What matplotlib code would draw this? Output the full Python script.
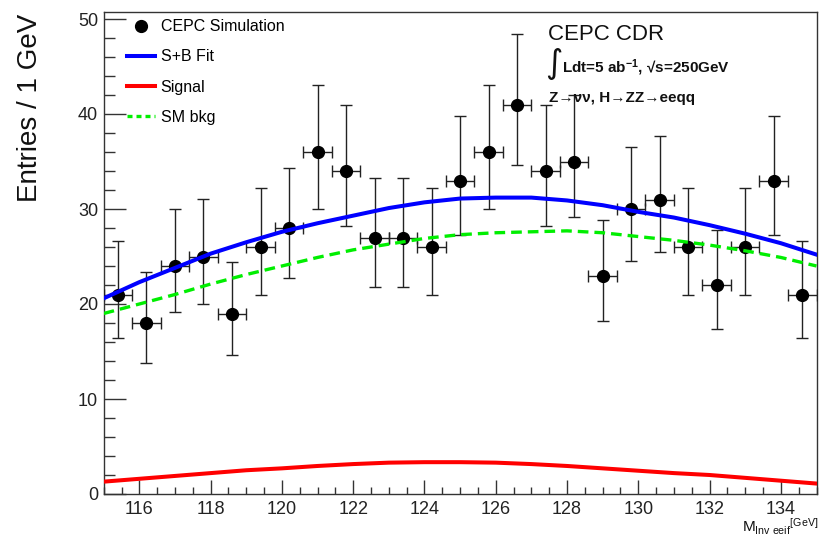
import numpy as np
import matplotlib.pyplot as plt
from matplotlib.lines import Line2D
from matplotlib.ticker import MultipleLocator

plt.rcParams['font.family'] = ['Liberation Sans', 'DejaVu Sans']
plt.rcParams['mathtext.fontset'] = 'custom'
plt.rcParams['mathtext.rm'] = 'Liberation Sans'
plt.rcParams['mathtext.it'] = 'Liberation Sans:italic'
plt.rcParams['mathtext.bf'] = 'Liberation Sans:bold'

# binned data, 0.8 GeV bins
bin_centers = [115.4, 116.2, 117.0, 117.8, 118.6, 119.4, 120.2, 121.0, 121.8,
               122.6, 123.4, 124.2, 125.0, 125.8, 126.6, 127.4, 128.2, 129.0,
               129.8, 130.6, 131.4, 132.2, 133.0, 133.8, 134.6]
counts = [21, 18, 24, 25, 19, 26, 28, 36, 34, 27, 27, 26, 33, 36, 41,
          34, 35, 23, 30, 31, 26, 22, 26, 33, 21]
bin_halfwidth = 0.4

curve_mass = [115, 116, 117, 118, 119, 120, 121, 122, 123, 124, 125,
              126, 127, 128, 129, 130, 131, 132, 133, 134, 135]
sb_fit = [20.6, 22.3, 23.8, 25.3, 26.5, 27.6, 28.5, 29.3, 30.1, 30.7, 31.1,
          31.2, 31.2, 30.9, 30.4, 29.7, 29.1, 28.3, 27.4, 26.4, 25.2]
signal = [1.3, 1.6, 1.9, 2.2, 2.5, 2.7, 2.95, 3.15, 3.3, 3.35, 3.35,
          3.3, 3.15, 2.95, 2.7, 2.45, 2.2, 2.0, 1.7, 1.4, 1.1]
sm_bkg = [19.0, 20.0, 21.0, 22.1, 23.1, 24.0, 24.9, 25.7, 26.3, 26.9, 27.3,
          27.5, 27.6, 27.7, 27.5, 27.1, 26.7, 26.2, 25.6, 24.9, 24.0]

# asymmetric poisson errors (Gehrels approximation)
n = np.array(counts, dtype=float)
err_hi = np.sqrt(n + 0.75) + 1.0
err_lo = n - n * (1 - 1 / (9 * n) - 1 / (3 * np.sqrt(n))) ** 3

W, H = 819, 537
fig = plt.figure(figsize=(W / 100, H / 100), dpi=100)
x0, x1, y0, y1 = 103.7, 816.5, 12, 494
ax = fig.add_axes([x0 / W, 1 - y1 / H, (x1 - x0) / W, (y1 - y0) / H])


def fpos(px, py):
    return px / W, 1 - py / H


ax.errorbar(bin_centers, counts, xerr=bin_halfwidth, yerr=[err_lo, err_hi],
            fmt='o', color='black', ecolor='#222222', elinewidth=1,
            capsize=4, capthick=1, markersize=8.5, zorder=3)
ax.plot(curve_mass, sb_fit, color='blue', lw=2.9, zorder=4)
ax.plot(curve_mass, signal, color='red', lw=2.9, zorder=4)
ax.plot(curve_mass, sm_bkg, color='#00ee00', lw=2.4, ls=(0, (3.2, 1.8)), zorder=4)

ax.set_xlim(115, 135)
ax.set_ylim(0, (y1 - y0) / 9.5)
ax.xaxis.set_major_locator(MultipleLocator(2))
ax.xaxis.set_minor_locator(MultipleLocator(0.5))
ax.yaxis.set_major_locator(MultipleLocator(10))
ax.yaxis.set_minor_locator(MultipleLocator(2))
ax.tick_params(axis='x', which='major', direction='in', length=10, width=1,
               labelsize=13, pad=5, color='#333333', labelcolor='#222222')
ax.tick_params(axis='x', which='minor', direction='in', length=5, width=1, color='#333333')
ax.tick_params(axis='y', which='major', direction='in', length=16, width=1,
               labelsize=13, pad=4, color='#333333', labelcolor='#222222')
ax.tick_params(axis='y', which='minor', direction='in', length=8, width=1, color='#333333')
for s in ax.spines.values():
    s.set_linewidth(1)
    s.set_color('#333333')

fig.text(*fpos(30, 14), 'Entries / 1 GeV', rotation=90, ha='center', va='top',
         fontsize=20, color='#111111')
fig.text(*fpos(818, 532.5), r'$\mathrm{M}_{\mathrm{Inv\ eeif}}{}^{\mathrm{[GeV]}}$',
         ha='right', va='baseline', fontsize=11, color='#111111')

fig.text(*fpos(548, 40), 'CEPC CDR', fontsize=16, va='baseline', color='#111111')
fig.text(*fpos(545, 63), '\u222b', fontsize=24, va='center', family='DejaVu Sans',
         color='#111111')
fig.text(*fpos(562, 72), 'Ldt=5 ab$^{\\mathbf{-1}}$, \u221as=250GeV', fontsize=11,
         fontweight='bold', va='baseline', color='#111111')
fig.text(*fpos(549, 102), 'Z\u2192\u03bd\u03bd, H\u2192ZZ\u2192eeqq', fontsize=11,
         fontweight='bold', va='baseline', color='#111111')

handles = [Line2D([], [], marker='o', color='black', ls='none', markersize=8.5),
           Line2D([], [], color='blue', lw=2.9),
           Line2D([], [], color='red', lw=2.9),
           Line2D([], [], color='#00ee00', lw=2.4, ls=(0, (1.5, 1.2)))]
labels = ['CEPC Simulation', 'S+B Fit', 'Signal', 'SM bkg']
ax.legend(handles, labels, loc='upper left', bbox_to_anchor=(0.033, 0.985),
          frameon=False, fontsize=11.5, handlelength=1.75, handletextpad=0.35,
          labelspacing=0.95, borderpad=0, borderaxespad=0)

fig.savefig('out.png', dpi=100)
